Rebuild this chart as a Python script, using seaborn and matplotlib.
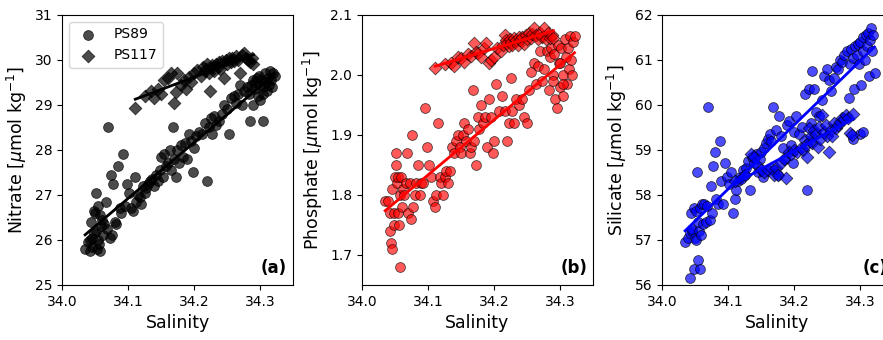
import numpy as np
import pandas as pd
import matplotlib
matplotlib.use("Agg")
import matplotlib.pyplot as plt
import seaborn as sns

# ---------------- data ----------------
ps89_sal = [34.035, 34.040, 34.042, 34.043, 34.044, 34.045, 34.046, 34.048, 34.049, 34.050,
            34.051, 34.052, 34.053, 34.054, 34.055, 34.056, 34.057, 34.058, 34.059, 34.060,
            34.062, 34.064, 34.066, 34.068, 34.070, 34.072, 34.074, 34.076, 34.078, 34.080,
            34.082, 34.085, 34.088, 34.090, 34.093, 34.095, 34.098, 34.102, 34.105, 34.107,
            34.110, 34.112, 34.115, 34.118, 34.120, 34.123, 34.126, 34.128, 34.130, 34.133,
            34.136, 34.139, 34.142, 34.145, 34.148, 34.150, 34.153, 34.155, 34.158, 34.160,
            34.163, 34.165, 34.168, 34.170, 34.173, 34.175, 34.178, 34.180, 34.183, 34.186,
            34.189, 34.192, 34.195, 34.198, 34.200, 34.203, 34.207, 34.212, 34.216, 34.220,
            34.222, 34.225, 34.228, 34.230, 34.234, 34.238, 34.242, 34.246, 34.250, 34.253,
            34.256, 34.260, 34.263, 34.266, 34.270, 34.273, 34.276, 34.280, 34.283, 34.285,
            34.287, 34.289, 34.291, 34.293, 34.295, 34.297, 34.299, 34.300, 34.302, 34.304,
            34.305, 34.307, 34.309, 34.310, 34.312, 34.313, 34.315, 34.317, 34.318, 34.320,
            34.322, 34.300, 34.290, 34.305]
ps89_nitrate = [25.80, 25.95, 26.00, 25.75, 26.40, 25.85, 26.05, 26.15, 26.65, 26.60,
                27.05, 26.20, 25.80, 26.75, 26.00, 25.90, 26.55, 25.75, 26.30, 26.45,
                26.10, 26.35, 26.85, 26.25, 28.50, 26.05, 27.45, 26.10, 27.25, 26.40,
                26.35, 27.65, 26.70, 26.60, 27.90, 26.75, 27.25, 27.05, 26.70, 26.65,
                27.40, 26.85, 27.00, 26.95, 26.80, 27.20, 27.05, 27.15, 27.25, 27.30,
                27.35, 27.20, 27.45, 27.30, 27.55, 27.85, 27.40, 27.90, 27.65, 27.70,
                28.00, 27.55, 28.50, 27.80, 27.40, 28.00, 27.70, 28.10, 27.85, 28.15,
                27.80, 28.35, 28.20, 27.50, 28.05, 28.30, 28.40, 28.35, 28.60, 27.30,
                28.50, 28.70, 28.35, 28.75, 28.55, 28.65, 28.80, 29.00, 28.90, 28.35,
                29.15, 29.20, 29.05, 29.25, 29.45, 29.00, 29.30, 29.40, 29.25, 28.65,
                29.45, 29.55, 29.35, 29.50, 29.60, 29.20, 29.65, 29.45, 29.55, 28.65,
                29.40, 29.70, 29.50, 29.30, 29.60, 29.45, 29.75, 29.55, 29.40, 29.70,
                29.65, 29.10, 29.00, 29.25]
ps89_phosphate = [1.79, 1.79, 1.77, 1.74, 1.72, 1.71, 1.81, 1.75, 1.77, 1.83,
                  1.85, 1.87, 1.82, 1.83, 1.77, 1.75, 1.80, 1.68, 1.83, 1.78,
                  1.81, 1.80, 1.82, 1.87, 1.77, 1.82, 1.76, 1.90, 1.78, 1.80,
                  1.82, 1.85, 1.80, 1.82, 1.82, 1.945, 1.88, 1.85, 1.83, 1.79,
                  1.78, 1.80, 1.92, 1.83, 1.82, 1.80, 1.83, 1.84, 1.82, 1.84,
                  1.88, 1.87, 1.89, 1.90, 1.88, 1.87, 1.90, 1.92, 1.89, 1.91,
                  1.87, 1.88, 1.975, 1.89, 1.85, 1.93, 1.91, 1.95, 1.92, 1.93,
                  1.88, 1.96, 1.93, 1.87, 1.89, 1.985, 1.94, 1.965, 1.94, 1.89,
                  1.92, 1.995, 1.94, 1.92, 1.96, 1.95, 1.96, 1.93, 1.92, 1.975,
                  2.005, 2.02, 1.985, 2.015, 2.04, 1.99, 2.01, 2.04, 1.975, 2.03,
                  2.045, 2.00, 2.035, 1.96, 1.945, 2.05, 2.02, 1.98, 2.045, 2.00,
                  1.965, 2.06, 2.03, 1.985, 2.045, 2.01, 2.065, 2.025, 2.00, 2.055,
                  2.065, 2.02, 1.99, 1.985]
ps89_silicate = [56.95, 57.05, 57.15, 56.15, 57.60, 57.20, 57.25, 56.35, 57.70, 57.05,
                 57.65, 57.00, 58.50, 56.55, 57.40, 57.20, 57.70, 56.35, 57.10, 57.80,
                 57.35, 57.80, 57.40, 57.75, 59.95, 57.45, 58.20, 57.60, 58.65, 58.95,
                 57.90, 57.80, 59.20, 58.30, 57.80, 58.70, 58.40, 58.25, 58.50, 57.60,
                 57.90, 58.10, 58.30, 58.40, 58.35, 58.55, 58.45, 58.60, 58.75, 58.10,
                 58.85, 58.70, 58.90, 58.50, 58.80, 58.95, 58.40, 59.05, 59.15, 59.25,
                 59.35, 59.20, 59.95, 58.55, 59.45, 58.45, 59.75, 59.30, 59.05, 58.80,
                 59.55, 59.65, 59.10, 58.70, 59.40, 59.75, 59.35, 59.50, 60.25, 58.10,
                 60.35, 59.60, 60.75, 60.35, 59.85, 59.75, 60.10, 60.65, 60.80, 60.55,
                 60.30, 60.60, 60.85, 60.80, 61.00, 60.95, 61.10, 61.20, 60.15, 60.90,
                 61.25, 61.05, 60.35, 61.30, 61.10, 61.35, 60.90, 61.40, 60.45, 61.20,
                 61.50, 61.00, 61.55, 61.30, 61.60, 60.65, 61.45, 61.70, 61.20, 61.55,
                 60.70, 59.35, 59.25, 59.40]

ps117_sal = [34.111, 34.125, 34.135, 34.140, 34.145, 34.150, 34.155, 34.160, 34.165, 34.170,
             34.172, 34.175, 34.180, 34.185, 34.188, 34.192, 34.196, 34.200, 34.205, 34.210,
             34.213, 34.216, 34.218, 34.220, 34.222, 34.224, 34.226, 34.228, 34.230, 34.233,
             34.236, 34.238, 34.240, 34.243, 34.246, 34.248, 34.250, 34.253, 34.256, 34.258,
             34.261, 34.264, 34.267, 34.270, 34.273, 34.276, 34.279, 34.282, 34.285, 34.288,
             34.290]
ps117_nitrate = [28.93, 29.20, 29.30, 29.15, 29.35, 29.25, 29.55, 29.60, 29.70, 29.05,
                 29.28, 29.70, 29.45, 29.55, 29.35, 29.62, 29.50, 29.72, 29.78, 29.65,
                 29.85, 29.75, 29.80, 29.90, 29.70, 29.30, 29.82, 29.88, 29.75, 29.92,
                 29.85, 29.95, 29.80, 29.98, 29.60, 30.00, 29.90, 30.05, 29.95, 30.05,
                 29.98, 30.08, 30.00, 29.70, 30.10, 30.15, 30.05, 30.00, 29.95, 30.05,
                 29.92]
ps117_phosphate = [2.012, 2.018, 2.020, 2.015, 2.030, 2.028, 2.022, 2.035, 2.032, 2.054,
                   2.038, 2.036, 2.030, 2.045, 2.053, 2.020, 2.025, 2.030, 2.045, 2.040,
                   2.050, 2.067, 2.058, 2.053, 2.048, 2.060, 2.055, 2.050, 2.062, 2.058,
                   2.050, 2.064, 2.058, 2.064, 2.052, 2.066, 2.060, 2.070, 2.062, 2.068,
                   2.078, 2.066, 2.060, 2.070, 2.064, 2.078, 2.060, 2.070, 2.062, 2.067,
                   2.062]
ps117_silicate = [58.30, 58.45, 58.90, 58.85, 58.65, 58.55, 58.50, 58.55, 58.60, 58.44,
                  58.60, 58.45, 58.70, 58.80, 58.37, 58.95, 58.90, 59.00, 58.95, 59.05,
                  59.00, 59.22, 59.10, 58.85, 59.48, 59.20, 59.30, 59.15, 59.44, 59.35,
                  59.07, 59.50, 59.25, 59.78, 59.40, 59.55, 59.30, 58.96, 59.45, 59.30,
                  59.60, 59.48, 59.55, 59.63, 59.70, 59.68, 59.78, 59.72, 59.37, 59.33,
                  59.80]

cruises = ["PS89", "PS117"]
panel_labels = ["(a)", "(b)", "(c)"]
ylabels = ["Nitrate [$\\mu$mol kg$^{-1}$]", "Phosphate [$\\mu$mol kg$^{-1}$]",
           "Silicate [$\\mu$mol kg$^{-1}$]"]
xticks = [34.0, 34.1, 34.2, 34.3]

ps89 = pd.DataFrame({"sal": ps89_sal, "n": ps89_nitrate, "p": ps89_phosphate, "si": ps89_silicate})
ps117 = pd.DataFrame({"sal": ps117_sal, "n": ps117_nitrate, "p": ps117_phosphate, "si": ps117_silicate})

# ---------------- plot ----------------
plt.rcParams["font.family"] = ["DejaVu Sans"]
fig = plt.figure(figsize=(8.83, 3.4), dpi=100)
W, H = 883.0, 340.0
lefts = [62, 362, 662]
axw, axb, axh = 231, 55, 270

specs = [
    ("n", "black", 0.7, (25, 31), [25, 26, 27, 28, 29, 30, 31]),
    ("p", "red", 0.65, (1.65, 2.1), [1.7, 1.8, 1.9, 2.0, 2.1]),
    ("si", "blue", 0.7, (56, 62), [56, 57, 58, 59, 60, 61, 62]),
]

for i, (col, color, alpha, ylim, yt) in enumerate(specs):
    ax = fig.add_axes([lefts[i] / W, axb / H, axw / W, axh / H])
    for df, marker, lab in [(ps89, "o", cruises[0]), (ps117, "D", cruises[1])]:
        sns.regplot(data=df, x="sal", y=col, ax=ax, ci=None, marker=marker,
                    color=color,
                    scatter_kws=dict(s=50 if marker == "o" else 42, alpha=alpha,
                                     edgecolor="black", linewidths=0.6, zorder=2),
                    line_kws=dict(color=color, lw=2, zorder=3))
    ax.set_xlim(34.0, 34.35)
    ax.set_ylim(*ylim)
    ax.set_xticks(xticks)
    ax.set_xticklabels([f"{t:.1f}" for t in xticks])
    ax.set_yticks(yt)
    if i == 1:
        ax.set_yticklabels([f"{t:.1f}" for t in yt])
    ax.tick_params(labelsize=10)
    ax.set_xlabel("Salinity", fontsize=12.5)
    ax.set_ylabel(ylabels[i], fontsize=12.5)
    ax.text(0.975, 0.03, panel_labels[i], transform=ax.transAxes, ha="right", va="bottom",
            fontsize=12, fontweight="bold")
    if i == 0:
        ax.legend(handles=[ax.collections[0], ax.collections[1]], labels=cruises,
                  loc="upper left", fontsize=10)

fig.savefig("out.png", dpi=100)
